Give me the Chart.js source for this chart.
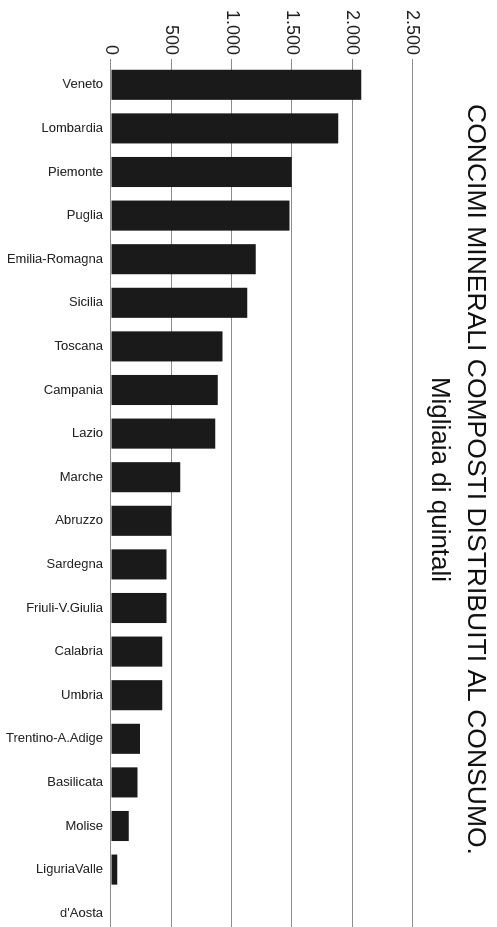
<!DOCTYPE html>
<html>
<head>
<meta charset="utf-8">
<script src="https://cdn.jsdelivr.net/npm/chart.js@4"></script>
<style>
  html, body { margin: 0; padding: 0; background: #fff; overflow: hidden; }
  /* the original page is printed sideways: draw it upright, then turn it clockwise */
  #grafico { position: absolute; left: 0; top: 0; transform-origin: 0 0; transform: translate(497px, 0) rotate(90deg); }
</style>
</head>
<body>
<canvas id="grafico" width="950" height="497"></canvas>
<script>
const regioni = ['Veneto', 'Lombardia', 'Piemonte', 'Puglia', 'Emilia-Romagna', 'Sicilia', 'Toscana',
  'Campania', 'Lazio', 'Marche', 'Abruzzo', 'Sardegna', 'Friuli-V.Giulia', 'Calabria', 'Umbria',
  'Trentino-A.Adige', 'Basilicata', 'Molise', 'LiguriaValle', "d'Aosta"];
const quintali = [2075, 1885, 1500, 1480, 1200, 1130, 925, 885, 865, 575, 500, 460, 460, 425, 425,
  240, 220, 148, 52, 5];
const tickValori = [0, 500, 1000, 1500, 2000, 2500];

const titolo = 'CONCIMI MINERALI COMPOSTI DISTRIBUITI AL CONSUMO.';
const sottotitolo = 'Migliaia di quintali';

function formatta(v) {
    return String(v).replace(/\B(?=(\d{3})+(?!\d))/g, '.');
}

const FONT = "'Liberation Sans', Arial, Helvetica, sans-serif";
const grigio = '#8c8c8c';

// titolo e sottotitolo nell'originale stanno un po' più in basso del centro
const spostaTitoli = {
    id: 'spostaTitoli',
    afterLayout(chart) {
        chart.boxes.forEach(b => {
            if (b.options && typeof b.options.text === 'string' && !b.axis) {
                b.left += 7;
                b.right += 7;
            }
        });
    }
};

new Chart(document.getElementById('grafico').getContext('2d'), {
    type: 'bar',
    data: {
        labels: regioni,
        datasets: [{
            data: quintali,
            backgroundColor: '#1a1a1a',
            borderWidth: 0,
            barPercentage: 0.69,
            categoryPercentage: 1
        }]
    },
    options: {
        responsive: false,
        animation: false,
        devicePixelRatio: 1,
        layout: { padding: { left: 10, right: 15, top: 0, bottom: 0 } },
        plugins: {
            legend: { display: false },
            tooltip: { enabled: false },
            title: {
                display: true,
                text: titolo,
                color: '#111',
                font: { family: FONT, size: 26.5, weight: 'normal', lineHeight: 1.2 },
                padding: { top: 6, bottom: 4 }
            },
            subtitle: {
                display: true,
                text: sottotitolo,
                color: '#111',
                font: { family: FONT, size: 26, weight: 'normal', lineHeight: 1.2 },
                padding: { top: 0, bottom: 11.6 }
            }
        },
        scales: {
            x: {
                afterFit: (scale) => { scale.height = 111; },
                grid: { display: false, drawTicks: false },
                border: { display: false },
                ticks: {
                    color: '#222',
                    font: { family: FONT, size: 13 },
                    padding: 8,
                    minRotation: 90,
                    maxRotation: 90,
                    autoSkip: false
                }
            },
            y: {
                min: 0,
                max: 2500,
                afterBuildTicks: (scale) => { scale.ticks = tickValori.map(v => ({ value: v })); },
                afterFit: (scale) => { scale.width = 53; },
                grid: { color: grigio, lineWidth: 1, tickLength: 4 },
                border: { display: false },
                ticks: {
                    color: '#222',
                    font: { family: FONT, size: 18 },
                    padding: 4,
                    callback: (v) => formatta(v)
                }
            }
        }
    },
    plugins: [spostaTitoli]
});
</script>
</body>
</html>
